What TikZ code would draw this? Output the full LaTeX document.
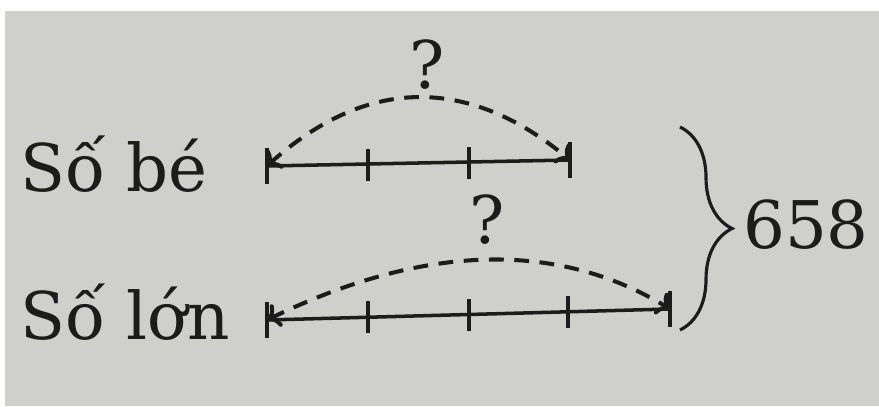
\documentclass[tikz,border=0pt]{standalone}
\usepackage{fontspec}
\setmainfont{DejaVu Serif}
\usetikzlibrary{arrows.meta,decorations.pathreplacing}
\definecolor{paper}{RGB}{207,207,204}
\definecolor{ink}{RGB}{28,28,28}
\tikzset{lbl/.style={inner sep=0pt,text=ink,font=\fontsize{18.7}{22}\selectfont},
  bar/.style={ink,line width=1pt},
  arc/.style={ink,line width=1.15pt,dash pattern=on 4.2pt off 3pt,{To[length=3.5pt,width=7pt]}-{To[length=3.5pt,width=7pt]}}}
\begin{document}
\begin{tikzpicture}[x=0.01cm,y=-0.01cm]
\useasboundingbox (0,0) rectangle (879,406);
\fill[white] (0,0) rectangle (879,406);
\fill[paper] (5,11) rectangle (879,406);
\node[lbl,anchor=base west] (be) at (20,191) {Số bé};
\node[lbl,anchor=base west] (lon) at (20,339) {Số lớn};
% so be
\coordinate (b0) at (267,166);\coordinate (b1) at (368,165);\coordinate (b2) at (469,163);\coordinate (b3) at (570,160);
\draw[bar] (b0)--(b3);
\draw[bar] (b0) ++(0,-18)--++(0,36);\draw[bar] (b1) ++(0,-16)--++(0,32);\draw[bar] (b2) ++(0,-16)--++(0,32);\draw[bar] (b3) ++(0,-18)--++(0,36);
\draw[arc] (b0) .. controls (366,77) and (467,75) .. (b3);
\node[lbl] (qb) at (427,65) {?};
% so lon
\coordinate (l0) at (267,320);\coordinate (l1) at (368,317);\coordinate (l2) at (469,315);\coordinate (l3) at (568,312);\coordinate (l4) at (670,309);
\draw[bar] (l0)--(l4);
\draw[bar] (l0) ++(0,-18)--++(0,36);\draw[bar] (l1) ++(0,-16)--++(0,32);\draw[bar] (l2) ++(0,-16)--++(0,32);\draw[bar] (l3) ++(0,-16)--++(0,32);\draw[bar] (l4) ++(0,-18)--++(0,36);
\draw[arc] (l0) .. controls (423,244) and (557,240) .. (l4);
\node[lbl] (ql) at (487,220) {?};
% tong
\coordinate (t0) at (680,127);\coordinate (t1) at (680,330);
\draw[ink,line width=0.9pt,decorate,decoration={brace,amplitude=0.52cm}] (t0)--(t1);
\node[lbl] (sum) at (806,225) {658};
\end{tikzpicture}
\end{document}
